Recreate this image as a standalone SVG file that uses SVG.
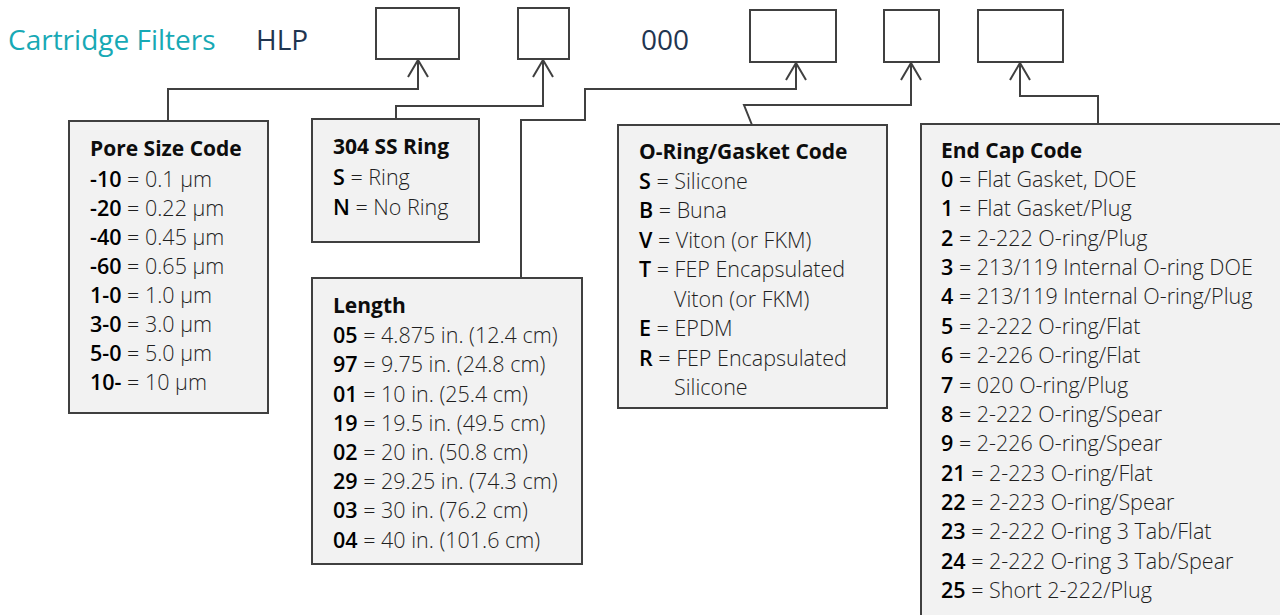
<svg xmlns="http://www.w3.org/2000/svg" width="1280" height="615" viewBox="0 0 1280 615">
<style>
.hdr{font-family:"Open Sans","Noto Sans",sans-serif;font-size:28px}
.slot{fill:#fff;stroke:#404040;stroke-width:2}
.box{fill:#f2f2f2;stroke:#404040;stroke-width:2}
.conn{fill:none;stroke:#404040;stroke-width:2}
.t{font-family:"Open Sans","Noto Sans",sans-serif;font-size:21px;font-weight:700;fill:#0d0d0d}
.r{font-family:"Open Sans","Noto Sans",sans-serif;font-size:21.5px;font-weight:300;fill:#1f1f1f}
.k{font-weight:600;fill:#000}
</style>
<defs>
<marker id="arr" markerUnits="userSpaceOnUse" markerWidth="40" markerHeight="40" viewBox="-20 -20 40 40" refX="0" refY="0" orient="auto" overflow="visible">
<path d="M-17,-10 L0,0 L-17,10" fill="none" stroke="#404040" stroke-width="2"/>
</marker>
</defs>
<rect width="1280" height="615" fill="#fff"/>
<g id="header">
<text class="hdr" x="8" y="50" fill="#17a9b5">Cartridge Filters</text>
<text class="hdr" x="256" y="50" fill="#1f3550">HLP</text>
<text class="hdr" x="641" y="50" fill="#1f3550">000</text>
</g>
<g id="slots">
<rect id="slot1" class="slot" x="376" y="8" width="83" height="51"/>
<rect id="slot2" class="slot" x="518" y="8" width="51" height="51"/>
<rect id="slot3" class="slot" x="750" y="10" width="86" height="52"/>
<rect id="slot4" class="slot" x="884" y="10" width="55" height="52"/>
<rect id="slot5" class="slot" x="978" y="10" width="85" height="52"/>
</g>
<g id="connectors">
<polyline class="conn" points="168,121 168,89 418,89 418,60" marker-end="url(#arr)"/>
<polyline class="conn" points="396,119 396,106 543,106 543,60" marker-end="url(#arr)"/>
<polyline class="conn" points="521,278 521,120 585,120 585,89 796,89 796,63" marker-end="url(#arr)"/>
<polyline class="conn" points="752,125 744,105 911,105 911,63" marker-end="url(#arr)"/>
<polyline class="conn" points="1098,124 1098,96 1020,96 1020,63" marker-end="url(#arr)"/>
</g>
<g id="pore">
<rect class="box" x="69" y="121" width="199" height="292"/>
<text class="t" x="90" y="156">Pore Size Code</text>
<text class="r" x="90" y="187"><tspan class="k">-10</tspan> = 0.1 µm</text>
<text class="r" x="90" y="216"><tspan class="k">-20</tspan> = 0.22 µm</text>
<text class="r" x="90" y="245"><tspan class="k">-40</tspan> = 0.45 µm</text>
<text class="r" x="90" y="274"><tspan class="k">-60</tspan> = 0.65 µm</text>
<text class="r" x="90" y="303"><tspan class="k">1-0</tspan> = 1.0 µm</text>
<text class="r" x="90" y="332"><tspan class="k">3-0</tspan> = 3.0 µm</text>
<text class="r" x="90" y="361"><tspan class="k">5-0</tspan> = 5.0 µm</text>
<text class="r" x="90" y="390"><tspan class="k">10-</tspan> = 10 µm</text>
</g>
<g id="ring">
<rect class="box" x="312" y="119" width="167" height="123"/>
<text class="t" x="333" y="154">304 SS Ring</text>
<text class="r" x="333" y="185"><tspan class="k">S</tspan> = Ring</text>
<text class="r" x="333" y="215"><tspan class="k">N</tspan> = No Ring</text>
</g>
<g id="length">
<rect class="box" x="312" y="278" width="270" height="286"/>
<text class="t" x="333" y="313">Length</text>
<text class="r" x="333" y="343"><tspan class="k">05</tspan> = 4.875 in. (12.4 cm)</text>
<text class="r" x="333" y="372"><tspan class="k">97</tspan> = 9.75 in. (24.8 cm)</text>
<text class="r" x="333" y="402"><tspan class="k">01</tspan> = 10 in. (25.4 cm)</text>
<text class="r" x="333" y="431"><tspan class="k">19</tspan> = 19.5 in. (49.5 cm)</text>
<text class="r" x="333" y="460"><tspan class="k">02</tspan> = 20 in. (50.8 cm)</text>
<text class="r" x="333" y="489"><tspan class="k">29</tspan> = 29.25 in. (74.3 cm)</text>
<text class="r" x="333" y="518"><tspan class="k">03</tspan> = 30 in. (76.2 cm)</text>
<text class="r" x="333" y="548"><tspan class="k">04</tspan> = 40 in. (101.6 cm)</text>
</g>
<g id="oring">
<rect class="box" x="618" y="125" width="269" height="283"/>
<text class="t" x="639" y="159">O-Ring/Gasket Code</text>
<text class="r" x="639" y="189"><tspan class="k">S</tspan> = Silicone</text>
<text class="r" x="639" y="218"><tspan class="k">B</tspan> = Buna</text>
<text class="r" x="639" y="248"><tspan class="k">V</tspan> = Viton (or FKM)</text>
<text class="r" x="639" y="277"><tspan class="k">T</tspan> = FEP Encapsulated</text>
<text class="r" x="674" y="307">Viton (or FKM)</text>
<text class="r" x="639" y="336"><tspan class="k">E</tspan> = EPDM</text>
<text class="r" x="639" y="366"><tspan class="k">R</tspan> = FEP Encapsulated</text>
<text class="r" x="674" y="395">Silicone</text>
</g>
<g id="endcap">
<rect class="box" x="921" y="124" width="370" height="500"/>
<text class="t" x="941" y="158">End Cap Code</text>
<text class="r" x="941" y="187"><tspan class="k">0</tspan> = Flat Gasket, DOE</text>
<text class="r" x="941" y="216"><tspan class="k">1</tspan> = Flat Gasket/Plug</text>
<text class="r" x="941" y="246"><tspan class="k">2</tspan> = 2-222 O-ring/Plug</text>
<text class="r" x="941" y="275"><tspan class="k">3</tspan> = 213/119 Internal O-ring DOE</text>
<text class="r" x="941" y="304"><tspan class="k">4</tspan> = 213/119 Internal O-ring/Plug</text>
<text class="r" x="941" y="334"><tspan class="k">5</tspan> = 2-222 O-ring/Flat</text>
<text class="r" x="941" y="363"><tspan class="k">6</tspan> = 2-226 O-ring/Flat</text>
<text class="r" x="941" y="393"><tspan class="k">7</tspan> = 020 O-ring/Plug</text>
<text class="r" x="941" y="422"><tspan class="k">8</tspan> = 2-222 O-ring/Spear</text>
<text class="r" x="941" y="451"><tspan class="k">9</tspan> = 2-226 O-ring/Spear</text>
<text class="r" x="941" y="481"><tspan class="k">21</tspan> = 2-223 O-ring/Flat</text>
<text class="r" x="941" y="510"><tspan class="k">22</tspan> = 2-223 O-ring/Spear</text>
<text class="r" x="941" y="539"><tspan class="k">23</tspan> = 2-222 O-ring 3 Tab/Flat</text>
<text class="r" x="941" y="569"><tspan class="k">24</tspan> = 2-222 O-ring 3 Tab/Spear</text>
<text class="r" x="941" y="598"><tspan class="k">25</tspan> = Short 2-222/Plug</text>
</g>
</svg>
